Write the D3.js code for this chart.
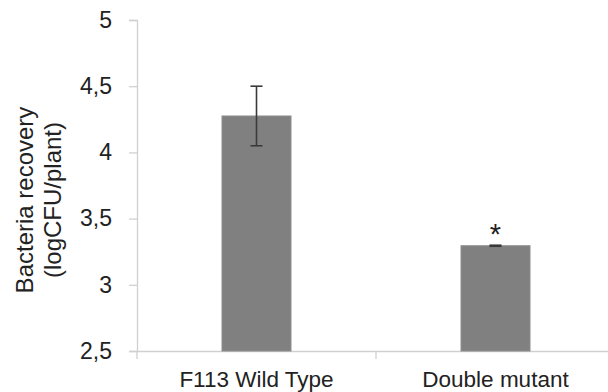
<!DOCTYPE html>
<html><head><meta charset="utf-8">
<script src="https://cdn.jsdelivr.net/npm/d3@7"></script>
<style>html,body{margin:0;padding:0;background:#fff;}svg{display:block;font-family:"Liberation Sans",Arial,sans-serif;}</style>
</head><body>
<script>
const categories = ["F113 Wild Type", "Double mutant"];
const values = [4.275, 3.295];
const errors = [0.225, 0.004];
const significance = ["", "*"];
const yTicks = [2.5, 3, 3.5, 4, 4.5, 5];
const yTitle = ["Bacteria recovery", "(logCFU/plant)"];

(function () {
const W = 608, H = 392;
const svg = d3.select("body").append("svg").attr("width", W).attr("height", H);
const mLeft = 137, mRight = 615, mTop = 20, mBottom = 351;
const x = d3.scaleBand().domain(categories).range([mLeft, mRight]).paddingInner(0).paddingOuter(0);
const y = d3.scaleLinear().domain([2.5, 5]).range([mBottom, mTop]);
const barW = 69;
const axisColor = "#d0d0d0";
const textColor = "#222";

// y axis
const ya = svg.append("g").attr("transform", `translate(${mLeft},0)`)
  .call(d3.axisLeft(y).tickValues(yTicks).tickSize(8).tickPadding(17)
    .tickFormat(d => d3.format("~g")(d).replace(".", ",")));
ya.select(".domain").attr("stroke", axisColor).attr("stroke-width", 1.3);
ya.selectAll(".tick line").attr("stroke", axisColor).attr("stroke-width", 1.3);
ya.selectAll(".tick text").attr("fill", textColor).style("font-size", "23px")
  .style("font-family", "'Liberation Sans', Arial, sans-serif");

// x axis
const xa = svg.append("g").attr("transform", `translate(0,${mBottom})`)
  .call(d3.axisBottom(x).tickSize(0).tickPadding(20));
xa.select(".domain").attr("stroke", axisColor).attr("stroke-width", 1.3);
xa.selectAll(".tick text").attr("fill", textColor).style("font-size", "22.5px")
  .style("font-family", "'Liberation Sans', Arial, sans-serif");
// category separators
const seps = [mLeft].concat(categories.map(c => x(c) + x.bandwidth()));
svg.append("g").selectAll("line").data(seps).join("line")
  .attr("x1", d => d).attr("x2", d => d).attr("y1", mBottom).attr("y2", mBottom + 8)
  .attr("stroke", axisColor).attr("stroke-width", 1.3);

// bars
svg.append("g").selectAll("rect").data(categories).join("rect")
  .attr("x", d => x(d) + x.bandwidth() / 2 - barW / 2)
  .attr("width", barW)
  .attr("y", (d, i) => y(values[i]))
  .attr("height", (d, i) => y(2.5) - y(values[i]))
  .attr("fill", "#808080").attr("stroke", "#8e8e8e").attr("stroke-width", 1);

// error bars
const eg = svg.append("g").attr("stroke", "#3a3a3a").attr("stroke-width", 1.6);
categories.forEach((c, i) => {
  const cx = x(c) + x.bandwidth() / 2;
  const y1 = y(values[i] + errors[i]), y2 = y(values[i] - errors[i]);
  eg.append("line").attr("x1", cx).attr("x2", cx).attr("y1", y1).attr("y2", y2);
  eg.append("line").attr("x1", cx - 6).attr("x2", cx + 6).attr("y1", y1).attr("y2", y1);
  eg.append("line").attr("x1", cx - 6).attr("x2", cx + 6).attr("y1", y2).attr("y2", y2);
});

// significance
svg.append("g").selectAll("text").data(categories).join("text")
  .attr("x", d => x(d) + x.bandwidth() / 2)
  .attr("y", (d, i) => y(values[i] + errors[i]) - 1)
  .attr("text-anchor", "middle").attr("fill", textColor)
  .style("font-size", "29px").text((d, i) => significance[i]);

// y title
const t = svg.append("text").attr("transform", "translate(0,200) rotate(-90)")
  .attr("text-anchor", "middle").attr("fill", textColor).style("font-size", "24px");
t.append("tspan").attr("x", 0).attr("y", 33).text(yTitle[0]);
t.append("tspan").attr("x", 0).attr("y", 61).text(yTitle[1]);
})();
</script>
</body></html>
